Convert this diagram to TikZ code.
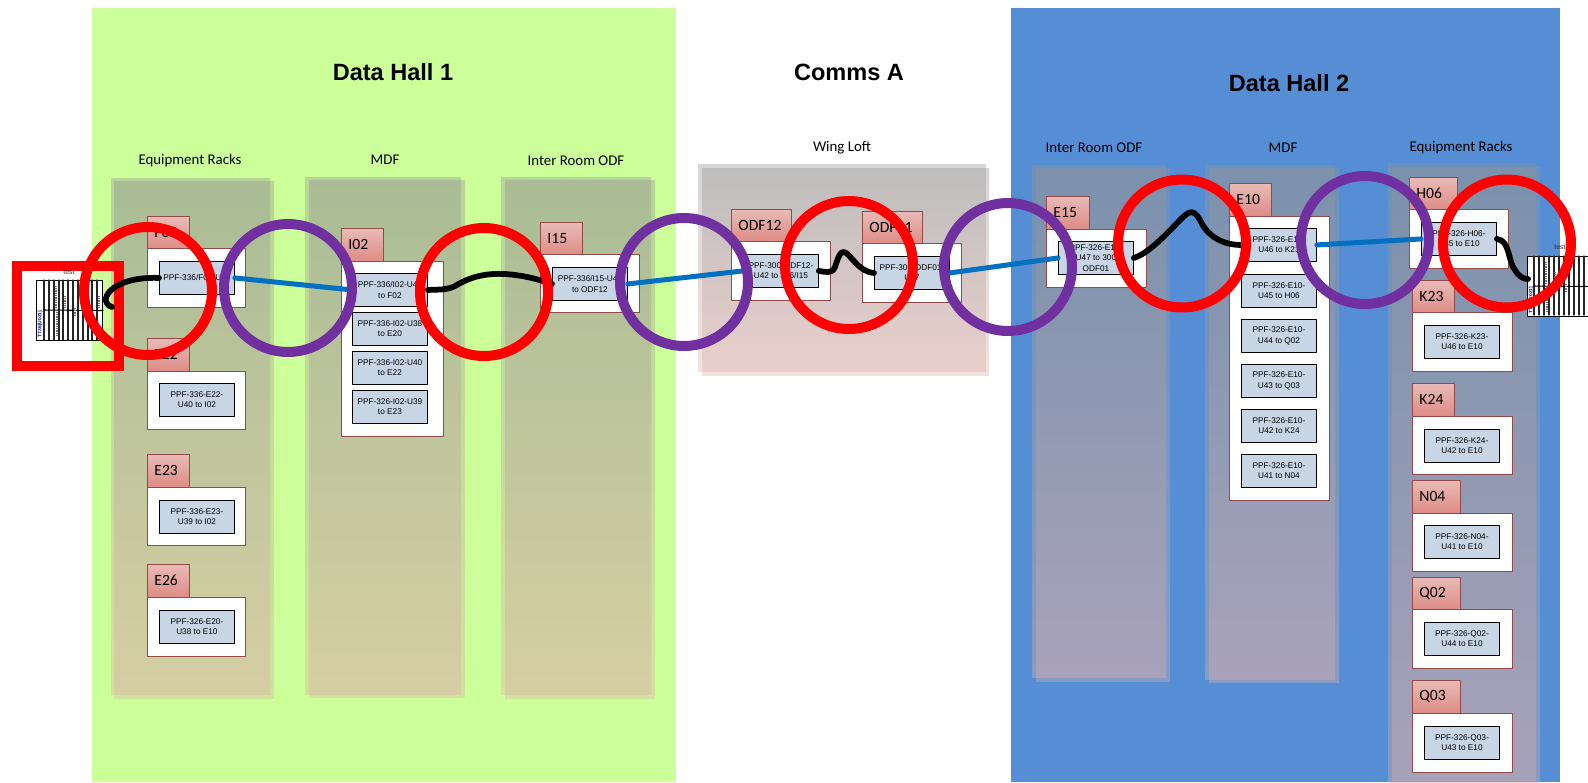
\documentclass[tikz,border=0pt]{standalone}
\usepackage{pgf,tikz}
\usepackage{fontspec}
\setmainfont{Liberation Sans}
\newfontfamily\calfont{Carlito}
\usetikzlibrary{shapes, calc, arrows}
\definecolor{hallgreen}{HTML}{CCFF99}
\definecolor{hallblue}{HTML}{558ED5}
\definecolor{ringpurple}{HTML}{7030A0}
\definecolor{cableblue}{HTML}{0070C0}
\definecolor{panelblue}{HTML}{C8D5E5}
\definecolor{edgered}{HTML}{944A48}
\definecolor{columntop}{HTML}{949494}
\definecolor{columnbot}{HTML}{DEB1AB}
\definecolor{tabtop}{HTML}{E9BAB6}
\definecolor{tabmid}{HTML}{C4625E}
\definecolor{tabbot}{HTML}{DE8C86}
\tikzset{
  columnshade/.style={top color=columntop, bottom color=columnbot, opacity=0.38},
  tabbox/.style={anchor=north west, draw=edgered, line width=0.5pt, top color=tabtop, middle color=tabmid, bottom color=tabbot, text width=#1, inner xsep=0.14cm, inner ysep=0pt, minimum height=0.65cm, align=left, font=\calfont\fontsize{8.9}{10}\selectfont},
  holderbox/.style={anchor=north west, draw=edgered, line width=0.5pt, fill=white, minimum width=#1, inner sep=0pt},
  panelbox/.style={anchor=north west, draw=black, line width=0.5pt, fill=panelblue, minimum width=1.5cm, minimum height=0.66cm, inner sep=0pt, align=center, font=\fontsize{4.7}{5.9}\selectfont},
  halltitle/.style={font=\bfseries\fontsize{13.4}{15}\selectfont},
  columntitle/.style={font=\calfont\fontsize{8.45}{10}\selectfont},
  ring/.style={circle, draw=#1, line width=0.2cm, minimum size=2.56cm, inner sep=0pt},
  cableblack/.style={line width=0.115cm, color=black},
  cablelink/.style={line width=0.1cm, color=cableblue},
  rackbox/.style={anchor=north west, draw=black, line width=0.6pt, fill=white, inner sep=0pt, minimum width=1.32cm, minimum height=1.2cm},
  racklabel/.style={font=\fontsize{4}{4.5}\selectfont, text=black!80!white},
  rackline/.style={line width=0.6pt, color=black!85!white},
  rackdots/.style={line width=0.9pt, color=black!55!white, dash pattern=on 0.5pt off 0.5pt, line cap=butt},
}
\begin{document}
\begin{tikzpicture}[line cap=round,line join=round,x=0.02cm,y=-0.02cm]
\useasboundingbox (0,0) rectangle (1588,782);
\clip (0,0) rectangle (1588,782);
% halls
\fill[color=hallgreen] (92,8) rectangle (676,782);
\fill[color=hallblue] (1011,8) rectangle (1560,782);
\foreach \xa/\ya/\xb/\yb in {111/178/270/694, 114/181/274/698, 305/177/461/694, 309/180/465/697, 501/177/651/694, 505/180/655/698, 698/164/986/371, 702/168/989/375, 1032/165/1166/677, 1036/168/1170/681, 1205/165/1335/679, 1209/168/1339/682, 1388/163/1536/800, 1392/167/1540/800}
\shade[columnshade] (\xa,\ya) rectangle (\xb,\yb);
\node[halltitle] (hallone) at (393,72) {Data Hall 1};
\node[halltitle] (commsa) at (849,72) {Comms A};
\node[halltitle] (halltwo) at (1289,83) {Data Hall 2};
\node[columntitle] (racksone) at (190,161) {Equipment Racks};
\node[columntitle] (mdfone) at (385,160) {MDF};
\node[columntitle] (oddfone) at (576,161) {Inter Room ODF};
\node[columntitle] (wingloft) at (842,148) {Wing Loft};
\node[columntitle] (oddftwo) at (1094,148) {Inter Room ODF};
\node[columntitle] (mdftwo) at (1283,148) {MDF};
\node[columntitle] (rackstwo) at (1461,148) {Equipment Racks};
% first racks column
\node[tabbox=0.56cm] (f02tab) at (147,216) {F02};
\node[holderbox=1.96cm, minimum height=1.18cm] (f02) at (147,248) {};
\node[panelbox] (f02box) at (159,261) {PPF-336/F02-U40};
\node[tabbox=0.56cm] (e22tab) at (147,338) {E22};
\node[holderbox=1.96cm, minimum height=1.16cm] (e22) at (147,371) {};
\node[panelbox] (e22box) at (159,383) {PPF-336-E22-\\U40 to I02};
\node[tabbox=0.56cm] (e23tab) at (147,454) {E23};
\node[holderbox=1.96cm, minimum height=1.16cm] (e23) at (147,487) {};
\node[panelbox] (e23box) at (159,500) {PPF-336-E23-\\U39 to I02};
\node[tabbox=0.56cm] (e26tab) at (147,564) {E26};
\node[holderbox=1.96cm, minimum height=1.18cm] (e26) at (147,597) {};
\node[panelbox] (e26box) at (159,610) {PPF-326-E20-\\U38 to E10};
% first MDF and ODF
\node[tabbox=0.56cm] (i02tab) at (341,228) {I02};
\node[holderbox=2.04cm, minimum height=3.5cm] (i02) at (341,261) {};
\node[panelbox] (i02a) at (352,273) {PPF-336/I02-U41\\to F02};
\node[panelbox] (i02b) at (352,312) {PPF-336-I02-U38\\to E20};
\node[panelbox] (i02c) at (352,351) {PPF-336-I02-U40\\to E22};
\node[panelbox] (i02d) at (352,390) {PPF-326-I02-U39\\to E23};
\node[tabbox=0.56cm] (i15tab) at (540,222) {I15};
\node[holderbox=1.98cm, minimum height=1.16cm] (i15) at (540,254) {};
\node[panelbox] (i15box) at (552,267) {PPF-336/I15-U42\\to ODF12};
% comms room
\node[tabbox=0.92cm] (odf12tab) at (731,209) {ODF12};
\node[holderbox=1.98cm, minimum height=1.18cm] (odf12) at (731,241) {};
\node[panelbox] (odf12box) at (743,254) {PPF-300-ODF12-\\U42 to 336/I15};
\node[tabbox=0.92cm] (odf01tab) at (862,211) {ODF01};
\node[holderbox=1.98cm, minimum height=1.18cm] (odf01) at (862,243) {};
\node[panelbox] (odf01box) at (874,256) {PPF-300-ODF01-\\U47};
% second ODF and MDF
\node[tabbox=0.58cm] (e15tab) at (1046,196) {E15};
\node[holderbox=2cm, minimum height=1.16cm] (e15) at (1046,229) {};
\node[panelbox] (e15box) at (1058,241) {PPF-326-E15-\\U47 to 300\\ODF01};
\node[tabbox=0.56cm] (e10tab) at (1229,183) {E10};
\node[holderbox=2cm, minimum height=5.68cm] (e10) at (1229,216) {};
\node[panelbox] (e10a) at (1241,228) {PPF-326-E10-\\U46 to K23};
\node[panelbox] (e10b) at (1241,274) {PPF-326-E10-\\U45 to H06};
\node[panelbox] (e10c) at (1241,319) {PPF-326-E10-\\U44 to Q02};
\node[panelbox] (e10d) at (1241,364) {PPF-326-E10-\\U43 to Q03};
\node[panelbox] (e10e) at (1241,409) {PPF-326-E10-\\U42 to K24};
\node[panelbox] (e10f) at (1241,454) {PPF-326-E10-\\U41 to N04};
% second racks column
\node[tabbox=0.68cm] (h06tab) at (1409,177) {H06};
\node[holderbox=1.98cm, minimum height=1.18cm] (h06) at (1409,209) {};
\node[panelbox] (h06box) at (1421,222) {PPF-326-H06-\\U45 to E10};
\node[tabbox=0.56cm] (k23tab) at (1412,280) {K23};
\node[holderbox=2cm, minimum height=1.18cm] (k23) at (1412,312) {};
\node[panelbox] (k23box) at (1424,325) {PPF-326-K23-\\U46 to E10};
\node[tabbox=0.56cm] (k24tab) at (1412,383) {K24};
\node[holderbox=2cm, minimum height=1.16cm] (k24) at (1412,416) {};
\node[panelbox] (k24box) at (1424,429) {PPF-326-K24-\\U42 to E10};
\node[tabbox=0.68cm] (n04tab) at (1412,480) {N04};
\node[holderbox=2cm, minimum height=1.16cm] (n04) at (1412,513) {};
\node[panelbox] (n04box) at (1424,525) {PPF-326-N04-\\U41 to E10};
\node[tabbox=0.68cm] (q02tab) at (1412,577) {Q02};
\node[holderbox=2cm, minimum height=1.18cm] (q02) at (1412,609) {};
\node[panelbox] (q02box) at (1424,622) {PPF-326-Q02-\\U44 to E10};
\node[tabbox=0.68cm] (q03tab) at (1412,680) {Q03};
\node[holderbox=2cm, minimum height=1.18cm] (q03) at (1412,713) {};
\node[panelbox] (q03box) at (1424,726) {PPF-326-Q03-\\U43 to E10};
% left rack with its marker
\node[draw=red, line width=0.2cm, line join=miter, minimum width=2.04cm, minimum height=2cm, inner sep=0pt] (marker) at (68,316) {};
\node[rackbox] (rackl) at (36,280) {};
\node[racklabel] (testl) at (69,272) {test};
\foreach \x in {44,49,54,59,63,68,73,78,83,88,92,97}
\draw[rackline] (\x,280) -- (\x,340);
\draw[line width=0.6pt] (44,310) -- (rackl.east);
\draw[rackdots] (56,286) -- (56,308);
\draw[rackdots] (57,312) -- (57,336);
\draw[rackdots] (65,296) -- (65,308);
\draw[rackdots] (75,308) -- (75,316);
\draw[rackdots] (99,296) -- (99,308);
\node[rotate=90, text=blue!70!black, font=\bfseries\fontsize{2.8}{3}\selectfont] (rackltext) at (40,324) {T736[U021]};
% right rack
\node[rackbox] (rackr) at (1527,256) {};
\node[racklabel] (testr) at (1560,247) {test};
\foreach \x in {1534,1539,1544,1549,1554,1559,1564,1569,1574,1579,1584}
\draw[rackline] (\x,256) -- (\x,315);
\draw[line width=0.6pt] (1534,286) -- (rackr.east);
\draw[rackdots] (1546,262) -- (1546,284);
\draw[rackdots] (1547,288) -- (1547,312);
\draw[rackdots] (1555,272) -- (1555,284);
\draw[rackdots] (1566,284) -- (1566,292);
\node[rotate=90, text=blue!70!black, font=\bfseries\fontsize{2.8}{3}\selectfont] (rackrtext) at (1531,300) {T736[U021]};
% cables
\coordinate (taill) at (112,307);
\coordinate (tailr) at (1528,279);
\draw[cableblack] (f02box.west) .. controls (135,277) and (118,283) .. (110,291) .. controls (104,298) and (104,304) .. (taill);
\draw[cableblack] (i02a.east) .. controls (440,289.5) and (447,290) .. (455,286) .. controls (470,277) and (485,273) .. (505,274) .. controls (520,275) and (535,278) .. (i15box.west);
\draw[cableblack] (odf12box.east) .. controls (826,272) and (832,274) .. (835,267) .. controls (838,258) and (840,251) .. (844,252) .. controls (850,253) and (858,272) .. (odf01box.west);
\draw[cableblack] (e15box.east) .. controls (1150,253) and (1170,230) .. (1182,218) .. controls (1190,210) and (1194,210) .. (1200,220) .. controls (1208,238) and (1225,245) .. (e10a.west);
\draw[cableblack] (h06box.east) .. controls (1510,240) and (1508,262) .. (1515,270) .. controls (1519,277) and (1524,279) .. (tailr);
\draw[cablelink] (f02box.east) -- (i02a.west);
\draw[cablelink] (i15box.east) -- (odf12box.west);
\draw[cablelink] (odf01box.east) -- (e15box.west);
\draw[cablelink] (e10a.east) -- (h06box.west);
% rings
\node[ring=red] (ringa) at (148,291) {};
\node[ring=ringpurple] (ringb) at (288,288) {};
\node[ring=red] (ringc) at (484,292) {};
\node[ring=ringpurple] (ringd) at (684,282) {};
\node[ring=red] (ringe) at (849,265) {};
\node[ring=ringpurple] (ringf) at (1008,267) {};
\node[ring=red] (ringg) at (1182,243.5) {};
\node[ring=ringpurple] (ringh) at (1365,240) {};
\node[ring=red] (ringi) at (1507,243.5) {};
\end{tikzpicture}
\end{document}
